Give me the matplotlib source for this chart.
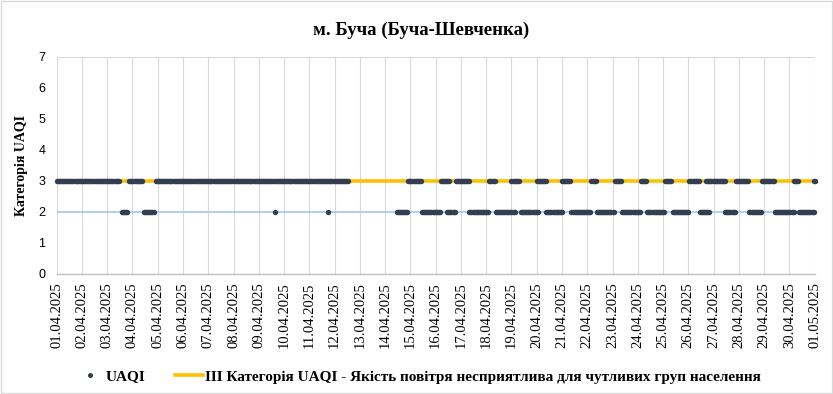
import numpy as np
import pandas as pd
import matplotlib
matplotlib.use("Agg")
import matplotlib.pyplot as plt
from matplotlib.lines import Line2D
from matplotlib.patches import Rectangle

# hour ranges (hours from 01.04.2025 00:00) where UAQI category is 3 / 2
uaqi3_runs = [(0, 59), (69, 81), (94, 277), (334, 346), (365, 373), (379, 392),
              (411, 416), (432, 439), (456, 465), (480, 488), (508, 512), (530, 536),
              (555, 560), (578, 584), (601, 610), (617, 635), (645, 657), (670, 681),
              (700, 704), (719, 720)]
uaqi2_runs = [(62, 67), (83, 92), (207, 207), (258, 258), (323, 333), (347, 364),
              (371, 378), (392, 410), (417, 435), (441, 457), (465, 480), (489, 507),
              (513, 529), (537, 554), (561, 577), (585, 600), (611, 620), (635, 644),
              (658, 669), (682, 700), (705, 719)]
threshold_cat3 = 3
threshold_cat2 = 2
dates = pd.date_range("2025-04-01", "2025-05-01", freq="D")
date_labels = [d.strftime("%d.%m.%Y") for d in dates]

title = "м. Буча (Буча-Шевченка)"
ylabel = "Категорія UAQI"
legend_pts = "UAQI"
legend_line = "III Категорія UAQI - Якість повітря несприятлива для чутливих груп населення"

serif = "Liberation Serif"
sans = "Liberation Sans"
dot_color = "#333F50"

hours, vals = [], []
for level, runs in ((3, uaqi3_runs), (2, uaqi2_runs)):
    for a, b in runs:
        h = np.arange(a, b + 1)
        hours.extend(h)
        vals.extend([level] * len(h))
x = np.array(hours) / 24.0
y = np.array(vals)

fig = plt.figure(figsize=(8.33, 3.94), dpi=100)
fig.patch.set_facecolor("white")
fig.patches.append(Rectangle((0.0015, 0.002), 0.997, 0.995, transform=fig.transFigure,
                             fill=False, edgecolor="#D9D9D9", linewidth=1))

ax = fig.add_axes([0.068, 0.3046, 0.910, 0.5508])
ndays = len(dates) - 1

# grid
for d in range(ndays + 1):
    ax.axvline(d, color="#D9D9D9", lw=0.8, zorder=0)
ax.axhline(7, color="#D9D9D9", lw=0.8, zorder=0)

ax.plot([0, ndays], [threshold_cat2] * 2, color="#A9C4EB", lw=1.2, zorder=1)
ax.plot([0, ndays], [threshold_cat3] * 2, color="#FFC000", lw=2.6, zorder=2)
ax.plot(x, y, linestyle="none", marker="o", ms=3.9, mew=0, color=dot_color,
        zorder=3, clip_on=False)

ax.set_xlim(0, ndays)
ax.set_ylim(0, 7)
ax.set_xticks(range(ndays + 1))
ax.set_xticklabels(date_labels, rotation=90, fontfamily=serif, fontsize=10.5)
ax.set_yticks(range(8))
ax.set_yticklabels([str(i) for i in range(8)], fontfamily=sans, fontsize=9)
ax.tick_params(axis="both", length=0)
ax.tick_params(axis="x", pad=6)
ax.tick_params(axis="y", pad=8)
for s in ("top", "right", "left"):
    ax.spines[s].set_visible(False)
ax.spines["bottom"].set_color("#BFBFBF")
ax.spines["bottom"].set_linewidth(1)

fig.text(0.505, 0.922, title, ha="center", va="center", fontfamily=serif,
         fontweight="bold", fontsize=13.5)
fig.text(0.026, 0.58, ylabel, ha="center", va="center", rotation=90,
         fontfamily=serif, fontweight="bold", fontsize=10)

handles = [Line2D([], [], linestyle="none", marker="o", ms=3.6, mew=0, color=dot_color),
           Line2D([], [], color="#FFC000", lw=2.6)]
fig.legend(handles, [legend_pts, legend_line], loc="center", ncol=2,
           bbox_to_anchor=(0.5024, 0.044), frameon=False, columnspacing=1.95,
           handlelength=1.83, handletextpad=0.13,
           prop={"family": serif, "weight": "bold", "size": 11})

fig.savefig("out.png", dpi=100, facecolor="white")
